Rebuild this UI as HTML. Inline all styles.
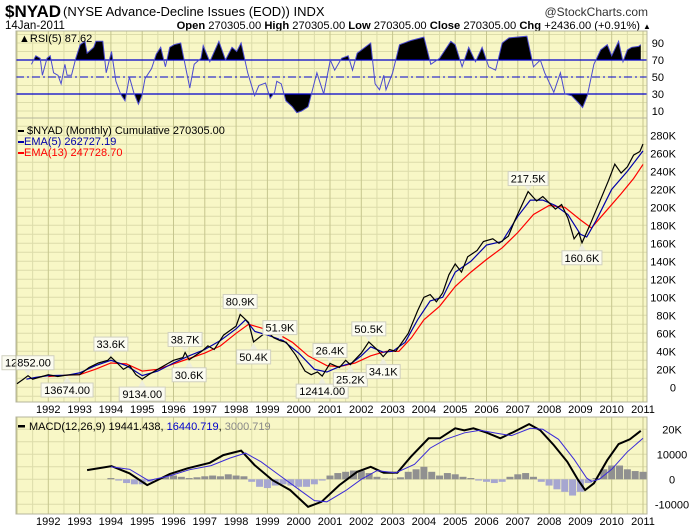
<!DOCTYPE html>
<html><head><meta charset="utf-8">
<style>
body{margin:0;background:#fff;width:700px;height:530px;overflow:hidden;font-family:"Liberation Sans","DejaVu Sans",sans-serif}
svg{display:block}
text{font-family:"Liberation Sans","DejaVu Sans",sans-serif}
</style></head>
<body>
<svg id="c" width="700" height="530" viewBox="0 0 700 530">
<text x="5" y="17" font-size="17" font-weight="bold">$NYAD</text>
<text x="63" y="16" font-size="13">(NYSE Advance-Decline Issues (EOD)) INDX</text>
<text x="648" y="16" font-size="12" text-anchor="end" fill="#333">@StockCharts.com</text>
<text x="5" y="29" font-size="11.5">14Jan-2011</text>
<text x="640" y="29" font-size="11.2" text-anchor="end"><tspan font-weight="bold">Open</tspan> 270305.00 <tspan font-weight="bold">High</tspan> 270305.00 <tspan font-weight="bold">Low</tspan> 270305.00 <tspan font-weight="bold">Close</tspan> 270305.00 <tspan font-weight="bold">Chg</tspan> +2436.00 (+0.91%)</text>
<text x="643" y="29" font-size="8">▲</text>
<g id="g"></g>
</svg>
<script>
// ---- data ----
const years=[1992,1993,1994,1995,1996,1997,1998,1999,2000,2001,2002,2003,2004,2005,2006,2007,2008,2009,2010,2011];
const priceYr=[1991.0,1991.2,1991.35,1991.5,1991.8,1992.0,1992.3,1992.6,1993.0,1993.3,1993.6,1993.9,1994.0,1994.2,1994.4,1994.6,1994.8,1995.0,1995.2,1995.5,1995.8,1996.0,1996.3,1996.37,1996.5,1996.9,1997.1,1997.3,1997.6,1997.8,1998.0,1998.13,1998.4,1998.56,1998.8,1999.0,1999.2,1999.4,1999.6,1999.9,2000.2,2000.4,2000.6,2000.75,2001.0,2001.3,2001.5,2001.65,2002.0,2002.24,2002.5,2002.7,2002.9,2003.1,2003.5,2003.8,2004.0,2004.2,2004.4,2004.6,2004.8,2005.0,2005.2,2005.4,2005.7,2005.9,2006.2,2006.4,2006.7,2006.9,2007.1,2007.33,2007.6,2007.8,2008.0,2008.2,2008.4,2008.6,2008.8,2008.95,2009.05,2009.3,2009.6,2009.9,2010.1,2010.3,2010.5,2010.7,2010.9,2011.0];
const priceVal=[4,9,12.85,9,12,14,12,13.7,14,22,27,30,33.6,27,20,24,14,9.1,14,20,26,30,33,38.7,30.6,40,46,42,58,63,68,80.9,72,50.4,57,62,55,51.9,50,36,18,14,17,12.4,26.4,22,30,25.2,38,50.5,42,34.1,42,40,60,85,100,103,95,105,125,137,128,145,152,162,165,160,168,185,200,217.5,207,212,205,198,203,188,165,172,160.6,180,205,230,248,238,245,258,262,270.3];
const ema5Yr=[1991.3,1991.6,1992.0,1992.6,1993.0,1993.5,1994.0,1994.5,1995.0,1995.5,1996.0,1996.5,1997.0,1997.5,1998.0,1998.3,1998.6,1999.0,1999.5,2000.0,2000.5,2000.9,2001.3,2001.7,2002.0,2002.3,2002.7,2003.0,2003.4,2003.8,2004.2,2004.6,2005.0,2005.5,2006.0,2006.5,2007.0,2007.4,2007.8,2008.2,2008.6,2009.0,2009.2,2009.5,2010.0,2010.5,2011.0];
const ema5Val=[9,11,13,13.5,16,24,30,24,13,18,27,35,42,52,65,75,62,58,52,38,20,17,23,27,35,45,39,40,50,75,96,100,128,140,158,162,190,208,208,202,192,170,167,185,220,240,262.7];
const ema13Yr=[1992.0,1992.6,1993.0,1993.5,1994.0,1994.5,1995.0,1995.5,1996.0,1996.5,1997.0,1997.5,1998.0,1998.4,1998.8,1999.3,1999.8,2000.3,2000.9,2001.3,2001.8,2002.3,2002.8,2003.2,2003.6,2004.0,2004.5,2005.0,2005.5,2006.0,2006.5,2007.0,2007.5,2008.0,2008.5,2009.0,2009.35,2009.8,2010.3,2010.7,2011.0];
const ema13Val=[12,13.5,14,20,27,26,18,20,26,32,38,46,60,70,66,60,50,35,24,23,27,35,40,40,55,75,90,112,128,142,155,172,192,202,200,186,177,195,215,232,247.7];
const rsiYr=[1991.46,1991.6,1991.74,1991.81,1991.96,1992.06,1992.17,1992.31,1992.41,1992.53,1992.6,1992.74,1992.88,1993.02,1993.17,1993.24,1993.45,1993.52,1993.74,1993.85,1994.02,1994.16,1994.31,1994.45,1994.59,1994.73,1994.88,1994.99,1995.09,1995.3,1995.45,1995.59,1995.74,1995.88,1996.02,1996.23,1996.52,1996.66,1996.88,1996.95,1997.16,1997.45,1997.66,1997.87,1998.02,1998.16,1998.37,1998.59,1998.73,1998.94,1999.09,1999.23,1999.3,1999.44,1999.59,1999.8,1999.94,2000.09,2000.3,2000.44,2000.58,2000.73,2000.8,2001.01,2001.15,2001.37,2001.58,2001.72,2001.87,2002.3,2002.44,2002.58,2002.72,2002.79,2003.0,2003.22,2003.58,2004.0,2004.22,2004.5,2004.86,2005.0,2005.22,2005.43,2005.65,2005.86,2006.07,2006.29,2006.5,2006.72,2007.29,2007.5,2007.72,2007.86,2008.15,2008.36,2008.5,2008.72,2008.93,2009.07,2009.22,2009.43,2009.65,2009.86,2010.0,2010.22,2010.36,2010.5,2010.64,2010.86,2010.93];
const rsiVal=[65,75,72,52,72,75,55,52,42,65,52,52,72,88,92,78,85,92,92,55,80,45,30,22,50,32,18,28,48,60,77,85,62,85,88,90,37,65,72,87,68,92,70,85,80,90,55,28,40,43,25,32,45,42,22,15,8,10,15,35,55,38,30,70,58,72,75,58,78,90,42,35,52,35,55,88,93,97,65,72,92,88,62,85,68,85,62,58,90,96,98,62,70,55,32,55,30,28,20,14,28,65,82,88,75,92,68,82,85,86,88];
const macdYr=[1993.24,1994.02,1994.59,1995.16,1995.88,1996.45,1997.16,1997.59,1998.16,1998.59,1999.16,1999.73,2000.3,2000.73,2001.3,2001.87,2002.3,2002.72,2003.15,2003.58,2004.15,2004.51,2005.0,2005.29,2005.58,2006.0,2006.44,2006.86,2007.36,2007.72,2008.15,2008.58,2008.93,2009.15,2009.43,2009.86,2010.22,2010.58,2010.93];
const macdVal=[3.7,5.3,2.4,-2.3,2.1,4.4,6.6,9.7,11.5,5.7,-0.3,-4.3,-11,-9,-2.3,3,5,2.6,2.6,9,16.4,16.4,20.4,19.6,20.4,18.7,16.4,18.9,22.1,19.6,13.7,7,-0.3,-4.3,-1.6,7.7,14.1,16,19.4];
const sigYr=[1994.0,1994.6,1995.2,1995.9,1996.5,1997.2,1997.8,1998.3,1998.8,1999.4,2000.0,2000.5,2000.9,2001.5,2002.0,2002.5,2003.1,2003.7,2004.2,2004.7,2005.3,2005.8,2006.3,2006.8,2007.4,2007.8,2008.3,2008.8,2009.2,2009.35,2009.6,2010.0,2010.5,2011.0];
const sigVal=[5,4,-0.5,1.5,3.8,5.5,8.5,10.5,7,1.5,-4,-8.5,-9,-4.5,0,3.5,2.6,6,12.5,16,18.6,19.6,18.5,17.5,20.4,20,16,8,0.5,-0.8,0,4,11,16.4];
const histStart=1994.0;
const histVal=[0.5,-0.5,-1.5,-2,-2,-1,0.3,1,1.5,1,0.5,0.8,1.2,1.5,1.2,2,1.5,1.2,-1,-3,-3.5,-2.5,-2,-2.5,-3,-3,-2,-0.5,1.5,2.5,3,3.5,3.5,2.5,1,0.3,0.2,0.8,3,4,5,3,1.5,2.5,2,1,0.5,-0.5,-1,-1.5,-1,1,2,2.5,1,-1,-2.5,-4,-5,-6.5,-5,-1.5,0.5,4,5.5,5.5,4,3.3,3];
const annYr=[1991.35,1992.6,1994.0,1995.0,1996.37,1996.5,1998.13,1998.56,1999.4,2000.75,2001.0,2001.65,2002.24,2002.7,2007.33,2009.05];
const annVal=[12.85,13.674,33.6,9.134,38.7,30.6,80.9,50.4,51.9,12.414,26.4,25.2,50.5,34.1,217.5,160.6];
const annText=["12852.00","13674.00","33.6K","9134.00","38.7K","30.6K","80.9K","50.4K","51.9K","12414.00","26.4K","25.2K","50.5K","34.1K","217.5K","160.6K"];
const annUp=[1,0,1,0,1,0,1,0,1,0,1,0,1,0,1,0];
const mainTicks=[0,20,40,60,80,100,120,140,160,180,200,220,240,260,280];
const rsiTicks=[10,30,50,70,90];
const macdTicks=[-10,0,10,20];
const macdTickLbl=["-10000","0","10000","20K"];

// ---- axes ----
const L=16,R=647;
const X=y=>48.3+(y-1992)*31.3;
const YM=v=>387.3-v*0.9;
const YR=v=>94-(v-30)*0.85;
const YD=v=>479.3-v*2.5;
const P={rsi:[31,118],main:[118,402],macd:[417,514]};
const NS="http://www.w3.org/2000/svg";
const G=document.getElementById('g');
function el(t,a,p){const e=document.createElementNS(NS,t);for(const k in a)e.setAttribute(k,a[k]);(p||G).appendChild(e);return e;}
function pts(xs,vs,f){return xs.map((y,i)=>X(y).toFixed(1)+","+f(vs[i]).toFixed(1)).join(" ");}

function panel(name,top,bot,hstep,hmin,hmax,f){
  const r=el('rect',{x:L,y:top,width:R-L,height:bot-top,fill:"#f8f7c6"});
  
  
  for(let v=hmin;v<=hmax;v+=hstep){const y=f(v);if(y>top&&y<bot)el('line',{x1:L,x2:R,y1:y,y2:y,stroke:"#dcdcaa","stroke-width":1});}
  for(let yr=1991;yr<=2011;yr+=0.5){const x=X(yr);if(x>L&&x<R)el('line',{x1:x,x2:x,y1:top,y2:bot,stroke:(yr%1===0)?"#c6c68e":"#dcdcaa","stroke-width":1});}
}
panel('rsi',P.rsi[0],P.rsi[1],10,0,100,YR);
panel('price',P.main[0],P.main[1],10,-10,300,YM);
panel('macd',P.macd[0],P.macd[1],5,-15,25,YD);

// RSI fills
const defs=el('defs',{});
const c1=el('clipPath',{id:'ab'},defs);el('rect',{x:L,y:P.rsi[0],width:R-L,height:YR(70)-P.rsi[0]},c1);
const c2=el('clipPath',{id:'be'},defs);el('rect',{x:L,y:YR(30),width:R-L,height:P.rsi[1]-YR(30)},c2);
const rp=pts(rsiYr,rsiVal,YR);
const x0=X(rsiYr[0]).toFixed(1),x1=X(rsiYr[rsiYr.length-1]).toFixed(1);
const fa=el('polygon',{points:x0+","+YR(70)+" "+rp+" "+x1+","+YR(70),fill:"#000","clip-path":"url(#ab)"});


const fb=el('polygon',{points:x0+","+YR(30)+" "+rp+" "+x1+","+YR(30),fill:"#000","clip-path":"url(#be)"});


[70,30].forEach(v=>el('line',{x1:L,x2:R,y1:YR(v),y2:YR(v),stroke:"#0000cc","stroke-width":1.3}));
el('line',{x1:L,x2:R,y1:YR(50),y2:YR(50),stroke:"#0000cc","stroke-width":1,"stroke-dasharray":"8,3,2,3"});
const rl=el('polyline',{points:rp,fill:"none",stroke:"#4a4ad0","stroke-width":1});


rsiTicks.forEach(v=>{const t=el('text',{x:664,y:YR(v)+4,"font-size":11,"text-anchor":"end"});t.textContent=v;});
const rlg=el('text',{x:19,y:42,"font-size":11});rlg.textContent="▲RSI(5) 87.62";



// main
const s13=el('polyline',{points:pts(ema13Yr,ema13Val,YM),fill:"none",stroke:"#ff0000","stroke-width":1.2});


const s5=el('polyline',{points:pts(ema5Yr,ema5Val,YM),fill:"none",stroke:"#0000aa","stroke-width":1.2});


const sp=el('polyline',{points:pts(priceYr,priceVal,YM),fill:"none",stroke:"#000","stroke-width":1.2});


mainTicks.forEach(v=>{const t=el('text',{x:676,y:YM(v)+4,"font-size":11,"text-anchor":"end"});t.textContent=v===0?"0":v+"K";});
annYr.forEach((yr,i)=>{
  const x=X(yr),y=YM(annVal[i]),w=annText[i].length*6+4,up=annUp[i];
  const by=up?y-20:y+8;
  const g=el('g',{});
  
  
  el('polygon',{points:up?`${x-4},${by+14} ${x+4},${by+14} ${x},${y-1}`:`${x-4},${by} ${x+4},${by} ${x},${y+1}`,fill:"#eeeedd"},g);
  el('rect',{x:x-w/2,y:by,width:w,height:14,fill:"#fbfbf0",stroke:"#d0d0c0"},g);
  const t=el('text',{x:x,y:by+11,"font-size":11,"text-anchor":"middle"},g);t.textContent=annText[i];
});
[["$NYAD (Monthly) Cumulative 270305.00","#000"],["EMA(5) 262727.19","#0000aa"],["EMA(13) 247728.70","#ff0000"]].forEach((d,i)=>{
  const y=134+i*11;
  el('rect',{x:18,y:y-4,width:6,height:2,fill:d[1]});
  const t=el('text',{x:i?24:27,y:y,"font-size":11,fill:d[1]});t.textContent=d[0];
  
  
});

// MACD
histVal.forEach((v,i)=>{
  const yr=histStart+i*0.25,x=X(yr);
  const b=el('rect',{x:x-3.5,y:Math.min(YD(v),YD(0)),width:7,height:Math.abs(YD(v)-YD(0)),fill:v>=0?"#909090":"#a6a6d0"});
  
  
});
const ml=el('polyline',{points:pts(macdYr,macdVal,YD),fill:"none",stroke:"#000","stroke-width":2});


const sl=el('polyline',{points:pts(sigYr,sigVal,YD),fill:"none",stroke:"#3a2ad8","stroke-width":1});


macdTicks.forEach((v,i)=>{const t=el('text',{x:672,y:YD(v*1)+4,"font-size":11,"text-anchor":"middle"});t.textContent=macdTickLbl[i];});
el('rect',{x:18,y:425,width:7,height:2.5,fill:"#000"});
const mt=el('text',{x:29,y:430,"font-size":11});
mt.innerHTML='MACD(12,26,9) 19441.438, <tspan fill="#0000cc">16440.719</tspan>, <tspan fill="#888">3000.719</tspan>';



// borders & year labels
Object.values(P).forEach(p=>el('rect',{x:L,y:p[0],width:R-L,height:p[1]-p[0],fill:"none",stroke:"#b4b49c","stroke-width":1}));
years.forEach(yr=>{[413,525].forEach(y=>{const t=el('text',{x:X(yr),y:y,"font-size":11,"text-anchor":"middle"});t.textContent=yr;

});});
</script>
</body></html>
